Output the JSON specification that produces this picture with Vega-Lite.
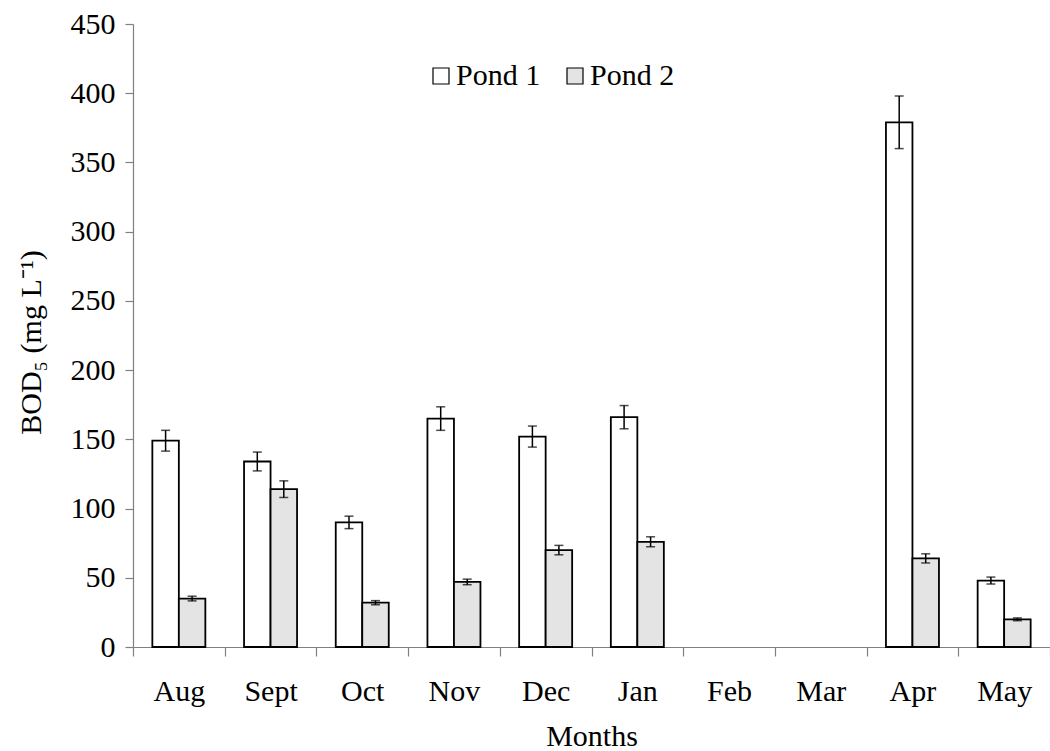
{
  "$schema": "https://vega.github.io/schema/vega-lite/v6.json",
  "width": 917,
  "height": 623,
  "autosize": "none",
  "padding": {"left": 133, "top": 24, "right": 0, "bottom": 104},
  "background": "white",
  "config": {
    "view": {"stroke": null},
    "font": "Liberation Serif",
    "axisY": {
      "labelFont": "Liberation Serif", "titleFont": "Liberation Serif",
      "labelFontSize": 30, "titleFontSize": 30, "titleFontWeight": "normal",
      "labelColor": "black", "titleColor": "black",
      "tickSize": 8, "labelPadding": 10,
      "domainColor": "#808080", "tickColor": "#808080", "domainWidth": 1.2, "tickWidth": 1.2,
      "titleX": -102, "titleY": 318, "titleAngle": -90, "titleAlign": "center", "titleBaseline": "middle",
      "grid": false
    }
  },
  "data": {"values": [
    {"month": "Aug", "pond": "Pond 1", "value": 149, "lo": 141.5, "hi": 156.5},
    {"month": "Aug", "pond": "Pond 2", "value": 35, "lo": 33.3, "hi": 36.7},
    {"month": "Sept", "pond": "Pond 1", "value": 134, "lo": 127.2, "hi": 140.8},
    {"month": "Sept", "pond": "Pond 2", "value": 114, "lo": 108, "hi": 120},
    {"month": "Oct", "pond": "Pond 1", "value": 90, "lo": 85.5, "hi": 94.5},
    {"month": "Oct", "pond": "Pond 2", "value": 32, "lo": 30.5, "hi": 33.5},
    {"month": "Nov", "pond": "Pond 1", "value": 165, "lo": 156.5, "hi": 173.5},
    {"month": "Nov", "pond": "Pond 2", "value": 47, "lo": 45, "hi": 49},
    {"month": "Dec", "pond": "Pond 1", "value": 152, "lo": 144.4, "hi": 159.6},
    {"month": "Dec", "pond": "Pond 2", "value": 70, "lo": 66.6, "hi": 73.4},
    {"month": "Jan", "pond": "Pond 1", "value": 166, "lo": 157.6, "hi": 174.4},
    {"month": "Jan", "pond": "Pond 2", "value": 76, "lo": 72.4, "hi": 79.6},
    {"month": "Apr", "pond": "Pond 1", "value": 379, "lo": 360, "hi": 398},
    {"month": "Apr", "pond": "Pond 2", "value": 64, "lo": 60.7, "hi": 67.3},
    {"month": "May", "pond": "Pond 1", "value": 48, "lo": 45.5, "hi": 50.5},
    {"month": "May", "pond": "Pond 2", "value": 20, "lo": 19, "hi": 21}
  ]},
  "encoding": {
    "x": {
      "field": "month", "type": "nominal",
      "scale": {"domain": ["Aug", "Sept", "Oct", "Nov", "Dec", "Jan", "Feb", "Mar", "Apr", "May"], "paddingInner": 0, "paddingOuter": 0},
      "axis": {
        "title": "Months", "tickBand": "extent", "labelAngle": 0,
        "labelFont": "Liberation Serif", "titleFont": "Liberation Serif",
        "labelFontSize": 30, "titleFontSize": 30, "titleFontWeight": "normal",
        "labelColor": "black", "titleColor": "black",
        "tickSize": 9, "labelPadding": 20, "labelBaseline": "top",
        "domainColor": "#808080", "tickColor": "#808080", "domainWidth": 1.2, "tickWidth": 1.2,
        "titleY": 98, "titleBaseline": "alphabetic", "grid": false
      }
    },
    "xOffset": {"field": "pond", "type": "nominal", "scale": {"paddingInner": 0, "paddingOuter": 0.73}}
  },
  "layer": [
    {
      "mark": {"type": "bar", "stroke": "black", "strokeWidth": 1.8},
      "encoding": {
        "y": {
          "field": "value", "type": "quantitative",
          "scale": {"domain": [0, 450], "nice": false},
          "axis": {"title": "BOD₅ (mg L⁻¹)", "values": [0, 50, 100, 150, 200, 250, 300, 350, 400, 450]}
        },
        "fill": {
          "field": "pond", "type": "nominal",
          "scale": {"domain": ["Pond 1", "Pond 2"], "range": ["white", "#e4e4e4"]},
          "legend": {
            "orient": "none", "legendX": 293, "legendY": 37, "direction": "horizontal",
            "title": null, "symbolType": "square", "symbolSize": 256,
            "symbolStrokeColor": "black", "symbolStrokeWidth": 1.2,
            "labelFont": "Liberation Serif",
            "labelFontSize": 30, "labelColor": "black", "labelOffset": 0,
            "columnPadding": 19, "padding": 0
          }
        }
      }
    },
    {
      "mark": {"type": "rule", "strokeWidth": 1.5, "color": "black"},
      "encoding": {
        "y": {"field": "lo", "type": "quantitative", "axis": {"title": "BOD₅ (mg L⁻¹)", "values": [0, 50, 100, 150, 200, 250, 300, 350, 400, 450]}},
        "y2": {"field": "hi"}
      }
    },
    {
      "mark": {"type": "tick", "size": 9, "thickness": 1.5, "color": "black"},
      "encoding": {"y": {"field": "lo", "type": "quantitative", "axis": {"title": "BOD₅ (mg L⁻¹)", "values": [0, 50, 100, 150, 200, 250, 300, 350, 400, 450]}}}
    },
    {
      "mark": {"type": "tick", "size": 9, "thickness": 1.5, "color": "black"},
      "encoding": {"y": {"field": "hi", "type": "quantitative", "axis": {"title": "BOD₅ (mg L⁻¹)", "values": [0, 50, 100, 150, 200, 250, 300, 350, 400, 450]}}}
    }
  ]
}
